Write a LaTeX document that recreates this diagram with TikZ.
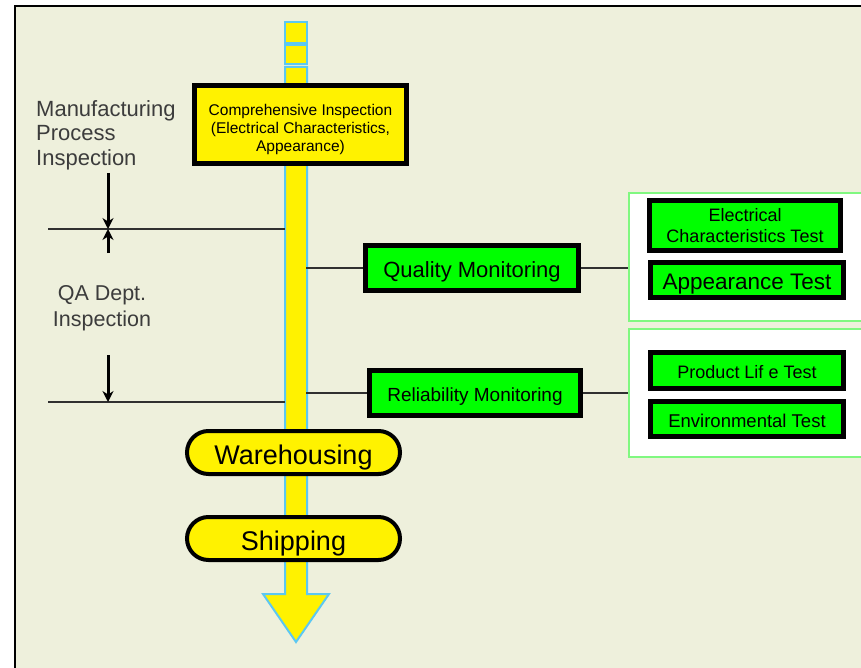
\documentclass[tikz,border=0pt]{standalone}
\usepackage{fontspec}
\setmainfont{Liberation Sans}
\usetikzlibrary{arrows.meta,shapes.misc}
\definecolor{bgc}{HTML}{EEF0DC}
\definecolor{pipeblue}{HTML}{5CC8F2}
\definecolor{panelgreen}{HTML}{80F880}
\definecolor{boxgreen}{HTML}{00FF00}
\definecolor{labelgray}{HTML}{3C3C3C}
\definecolor{linegray}{HTML}{303030}
\tikzset{
  pipe/.style={draw=pipeblue, line width=2, fill=yellow, line join=miter},
  mainbox/.style={draw=black, line width=5, fill=yellow, inner sep=0pt, align=center},
  greenbox/.style={draw=black, line width=5, fill=boxgreen, inner sep=0pt, align=center},
  oneline/.style={text height=#1, text depth=0pt},
  stadium/.style={rounded rectangle, draw=black, line width=4, fill=yellow, inner sep=0pt, oneline=23.8pt},
  panel/.style={draw=panelgreen, line width=1.5, fill=white, inner sep=0pt},
  conn/.style={draw=linegray, line width=1.2},
  dimarrow/.style={draw=black, line width=3, -{Stealth[length=11,width=11]}},
  sidelabel/.style={text=labelgray, inner sep=0pt}
}
\begin{document}
\begin{tikzpicture}[x=1pt,y=-1pt]
\useasboundingbox (0,0) rectangle (861,668);
\fill[bgc] (15,6) rectangle (861,668);
\draw[black, line width=1.5] (15,668) -- (15,6) -- (861,6);

% right panels
\node[panel, minimum width=240, minimum height=128] (P1) at (749,257) {};
\node[panel, minimum width=240, minimum height=128] (P2) at (749,393) {};

% pipe
\draw[pipe] (285,22) rectangle (307,43);
\draw[pipe] (285,45) rectangle (307,64);
\draw[pipe] (285,67) -- (307,67) -- (307,594) -- (329,594) -- (296,642) -- (263,594) -- (285,594) -- cycle;

% coordinates on the pipe and free ends
\coordinate (barL1) at (285,229);
\coordinate (barL2) at (285,402);
\coordinate (barRq) at (306,268);
\coordinate (barRr) at (306,393);
\coordinate (lineA) at (48,229);
\coordinate (lineB) at (48,402);
\coordinate (arA1) at (108,173);
\coordinate (arA2) at (108,229);
\coordinate (arB1) at (108,253);
\coordinate (arB2) at (108,229);
\coordinate (arC1) at (108,355);
\coordinate (arC2) at (108,402);

% horizontal level lines
\draw[conn] (lineA) -- (barL1);
\draw[conn] (lineB) -- (barL2);

% dimension arrows
\draw[dimarrow] (arA1) -- (arA2);
\draw[dimarrow] (arB1) -- (arB2);
\draw[dimarrow] (arC1) -- (arC2);

% side labels
\node[sidelabel, anchor=north west, align=left, font=\fontsize{22}{24.5}\selectfont] (mpi) at (36,100)
  {Manufacturing\\Process\\Inspection};
\node[sidelabel, anchor=north, align=center, font=\fontsize{21.5}{26.5}\selectfont] (qa) at (102,285)
  {QA Dept.\\Inspection};

% main box
\node[mainbox, minimum width=212, minimum height=78, font=\fontsize{15.5}{18}\selectfont] (comp) at (300.5,124.5)
  {\rule{0pt}{21.5pt}Comprehensive Inspection\\(Electrical Characteristics,\\Appearance)};

% monitoring boxes
\node[greenbox, oneline=19.4pt, minimum width=213, minimum height=45, font=\fontsize{22}{24}\selectfont] (qm) at (472,268) {Quality Monitoring};
\node[greenbox, oneline=16.7pt, minimum width=211, minimum height=45, font=\fontsize{19}{21}\selectfont] (rm) at (475,393) {Reliability Monitoring};

\draw[conn] (barRq) -- (qm.west);
\draw[conn] (qm.east) -- (qm.east -| P1.west);
\draw[conn] (barRr) -- (rm.west);
\draw[conn] (rm.east) -- (rm.east -| P2.west);

% test boxes
\node[greenbox, minimum width=191, minimum height=50, font=\fontsize{18}{21}\selectfont] (ect) at (745,225.5) {Electrical\\Characteristics Test};
\node[greenbox, oneline=19.8pt, minimum width=193, minimum height=35, font=\fontsize{22.5}{24}\selectfont] (at) at (747,280) {Appearance Test};
\node[greenbox, oneline=15.8pt, minimum width=193, minimum height=36, font=\fontsize{18}{20}\selectfont] (plt) at (747,370.5) {Product Lif e Test};
\node[greenbox, oneline=16.3pt, minimum width=193, minimum height=35, font=\fontsize{18.5}{20}\selectfont] (et) at (747,419) {Environmental Test};

% stadiums
\node[stadium, minimum width=213, minimum height=43, font=\fontsize{27}{29}\selectfont] (wh) at (293.5,452.5) {Warehousing};
\node[stadium, minimum width=213, minimum height=43, font=\fontsize{27}{29}\selectfont] (sh) at (293.5,538.5) {Shipping};
\end{tikzpicture}
\end{document}
